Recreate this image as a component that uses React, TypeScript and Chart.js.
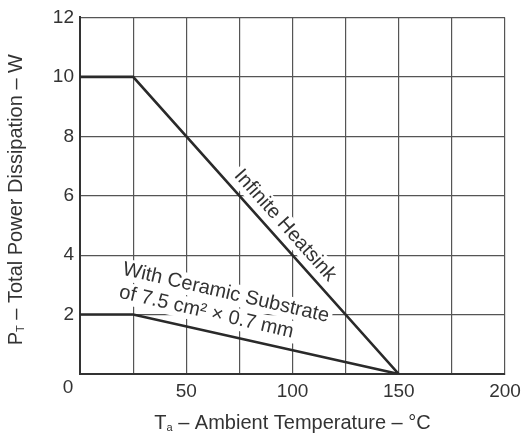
import React, { useEffect, useRef } from "react";
import { Chart, registerables } from "chart.js";

Chart.register(...registerables);

const heatsinkTemps = [0, 25, 150];
const heatsinkPower = [10, 10, 0];
const ceramicTemps = [0, 25, 150];
const ceramicPower = [2, 2, 0];
const xLabels = [50, 100, 150, 200];
const yLabels = [2, 4, 6, 8, 10, 12];
const cornerLabel = "0";
const heatsinkLabel = "Infinite Heatsink";
const ceramicLabel1 = "With Ceramic Substrate";
const ceramicLabel2 = "of 7.5 cm² × 0.7 mm";

const FONT = "'Liberation Sans', Arial, sans-serif";
const TEXT = "#333333";

function drawSubText(ctx: CanvasRenderingContext2D, parts: [string, boolean][], cx: number, cy: number, size: number) {
  const main = `${size}px ${FONT}`;
  const sub = `${Math.round(size * 0.55)}px ${FONT}`;
  let total = 0;
  const widths: number[] = [];
  for (const [t, s] of parts) {
    ctx.font = s ? sub : main;
    const w = ctx.measureText(t).width;
    widths.push(w);
    total += w;
  }
  let x = cx - total / 2;
  ctx.textAlign = "left";
  ctx.textBaseline = "middle";
  parts.forEach(([t, s], i) => {
    ctx.font = s ? sub : main;
    ctx.fillText(t, x, s ? cy + size * 0.25 : cy);
    x += widths[i];
  });
}

function boxedText(ctx: CanvasRenderingContext2D, lines: { t: string; x: number; y: number }[], angle: number, size: number) {
  ctx.font = `${size}px ${FONT}`;
  for (const l of lines) {
    ctx.save();
    ctx.translate(l.x, l.y);
    ctx.rotate(angle);
    const w = ctx.measureText(l.t).width;
    ctx.fillStyle = "#ffffff";
    ctx.fillRect(-w / 2 - 3, -size * 0.55, w + 6, size * 1.1);
    ctx.restore();
  }
  for (const l of lines) {
    ctx.save();
    ctx.translate(l.x, l.y);
    ctx.rotate(angle);
    ctx.fillStyle = TEXT;
    ctx.textAlign = "center";
    ctx.textBaseline = "middle";
    ctx.fillText(l.t, 0, 0);
    ctx.restore();
  }
}

const annotations = {
  id: "annotations",
  afterDraw(chart: any) {
    const { ctx, scales } = chart;
    const xs = scales.x;
    const ys = scales.y;
    const area = chart.chartArea;
    ctx.save();
    // heatsink label along the line
    const p1x = xs.getPixelForValue(heatsinkTemps[1]);
    const p1y = ys.getPixelForValue(heatsinkPower[1]);
    const p2x = xs.getPixelForValue(heatsinkTemps[2]);
    const p2y = ys.getPixelForValue(heatsinkPower[2]);
    const a1 = Math.atan2(p2y - p1y, p2x - p1x);
    boxedText(ctx, [{ t: heatsinkLabel, x: xs.getPixelForValue(96.5), y: ys.getPixelForValue(5.0) }], a1, 20);
    const a2 = (13 * Math.PI) / 180;
    boxedText(
      ctx,
      [
        { t: ceramicLabel1, x: xs.getPixelForValue(68.7), y: ys.getPixelForValue(2.73) },
        { t: ceramicLabel2, x: xs.getPixelForValue(59.5), y: ys.getPixelForValue(2.08) },
      ],
      a2,
      20
    );
    // corner zero label
    ctx.fillStyle = TEXT;
    ctx.font = `19px ${FONT}`;
    ctx.textAlign = "center";
    ctx.textBaseline = "middle";
    ctx.fillText(cornerLabel, area.left - 12, area.bottom + 14);
    // axis titles
    drawSubText(ctx, [["T", false], ["a", true], [" – Ambient Temperature – °C", false]], (area.left + area.right) / 2, 423, 20);
    ctx.save();
    ctx.translate(16, (area.top + area.bottom) / 2 + 4);
    ctx.rotate(-Math.PI / 2);
    drawSubText(ctx, [["P", false], ["T", true], [" – Total Power Dissipation – W", false]], 0, 0, 20);
    ctx.restore();
    ctx.restore();
  },
};

export default function App() {
  const ref = useRef<HTMLCanvasElement>(null);
  useEffect(() => {
    if (!ref.current) return;
    const chart = new Chart(ref.current, {
      type: "line",
      data: {
        datasets: [
          {
            label: heatsinkLabel,
            data: heatsinkTemps.map((x, i) => ({ x, y: heatsinkPower[i] })),
            borderColor: "#2a2a2a",
            borderWidth: 2.6,
            pointRadius: 0,
            tension: 0,
          },
          {
            label: ceramicLabel1,
            data: ceramicTemps.map((x, i) => ({ x, y: ceramicPower[i] })),
            borderColor: "#2a2a2a",
            borderWidth: 2.6,
            pointRadius: 0,
            tension: 0,
          },
        ],
      },
      options: {
        animation: false,
        responsive: true,
        maintainAspectRatio: false,
        layout: { padding: { top: 13, right: 26, left: 0, bottom: 0 } },
        plugins: { legend: { display: false }, tooltip: { enabled: false } },
        scales: {
          x: {
            type: "linear",
            min: 0,
            max: 200,
            ticks: {
              stepSize: 25,
              autoSkip: false,
              maxRotation: 0,
              padding: 6,
              color: TEXT,
              font: { size: 19, family: FONT },
              callback: (v: any) => (xLabels.includes(Number(v)) ? String(v) : ""),
            },
            grid: { color: "#555555", lineWidth: 1.2, drawTicks: false },
            border: { color: "#333333", width: 2 },
            afterFit: (s: any) => {
              s.height = 67;
            },
          },
          y: {
            type: "linear",
            min: 0,
            max: 12,
            ticks: {
              stepSize: 2,
              padding: 6,
              color: TEXT,
              font: { size: 19, family: FONT },
              callback: (v: any) => (yLabels.includes(Number(v)) ? String(v) : ""),
            },
            grid: { color: "#555555", lineWidth: 1.2, drawTicks: false },
            border: { color: "#333333", width: 2 },
            afterFit: (s: any) => {
              s.width = 80;
            },
          },
        },
      },
      plugins: [annotations],
    });
    return () => chart.destroy();
  }, []);
  return (
    <div style={{ position: "absolute", left: 0, top: 0, width: 531, height: 441, background: "#fff" }}>
      <canvas ref={ref} />
    </div>
  );
}
